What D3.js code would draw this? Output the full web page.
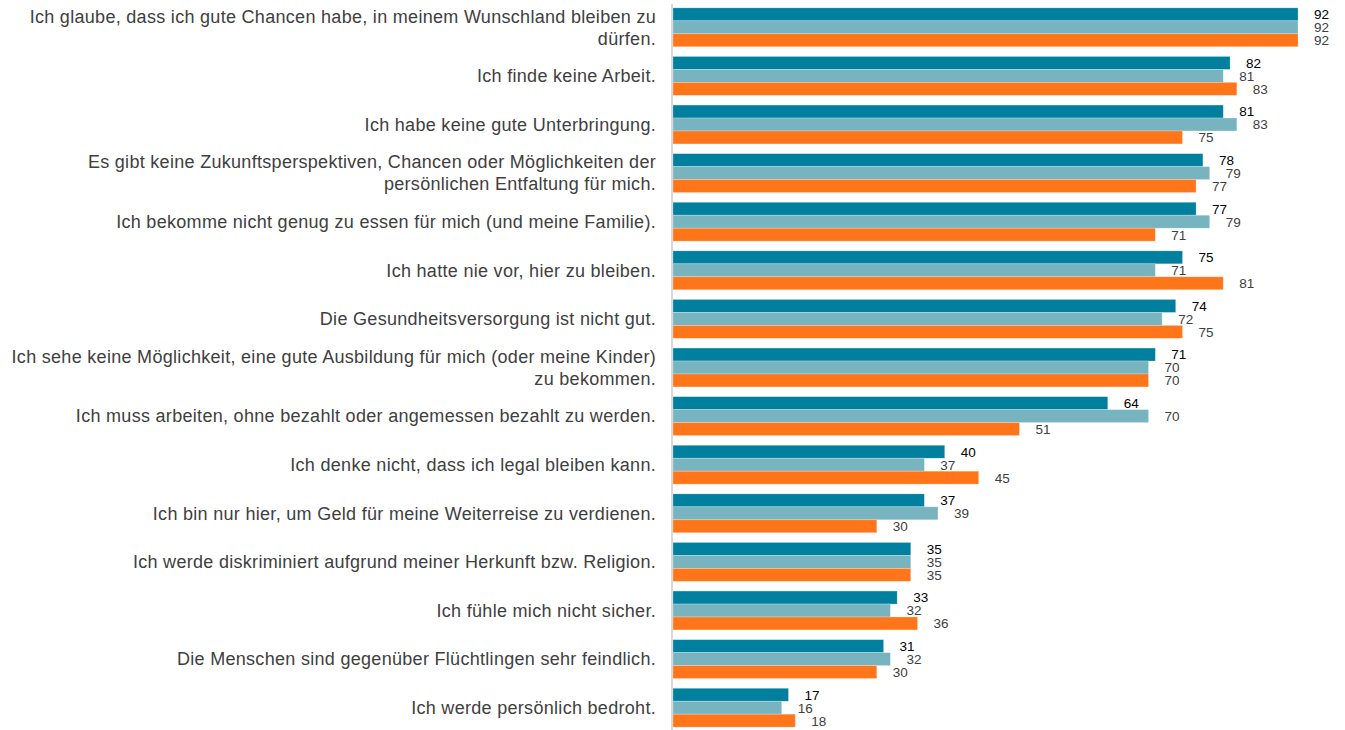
<!DOCTYPE html>
<html lang="de">
<head>
    <meta charset="UTF-8">
    <title>Gründe</title>
    <script src="https://cdn.jsdelivr.net/npm/d3@7"></script>
    <style>
        body { margin: 0; background: #fff; }
        .cat text { font: 18px "Liberation Sans", Arial, sans-serif; fill: #404040; letter-spacing: 0.3px; }
        .val { font: 13.5px "Liberation Sans", Arial, sans-serif; }
    </style>
</head>
<body>
<svg id="chart" width="1345" height="730"></svg>
<script>
    var categories = [
        "Ich glaube, dass ich gute Chancen habe, in meinem Wunschland bleiben zu dürfen.",
        "Ich finde keine Arbeit.",
        "Ich habe keine gute Unterbringung.",
        "Es gibt keine Zukunftsperspektiven, Chancen oder Möglichkeiten der persönlichen Entfaltung für mich.",
        "Ich bekomme nicht genug zu essen für mich (und meine Familie).",
        "Ich hatte nie vor, hier zu bleiben.",
        "Die Gesundheitsversorgung ist nicht gut.",
        "Ich sehe keine Möglichkeit, eine gute Ausbildung für mich (oder meine Kinder) zu bekommen.",
        "Ich muss arbeiten, ohne bezahlt oder angemessen bezahlt zu werden.",
        "Ich denke nicht, dass ich legal bleiben kann.",
        "Ich bin nur hier, um Geld für meine Weiterreise zu verdienen.",
        "Ich werde diskriminiert aufgrund meiner Herkunft bzw. Religion.",
        "Ich fühle mich nicht sicher.",
        "Die Menschen sind gegenüber Flüchtlingen sehr feindlich.",
        "Ich werde persönlich bedroht."
    ];
    var series1 = [92, 82, 81, 78, 77, 75, 74, 71, 64, 40, 37, 35, 33, 31, 17];
    var series2 = [92, 81, 83, 79, 79, 71, 72, 70, 70, 37, 39, 35, 32, 32, 16];
    var series3 = [92, 83, 75, 77, 71, 81, 75, 70, 51, 45, 30, 35, 36, 30, 18];
    var seriesKeys = ["s1", "s2", "s3"];
    var colors = ["#007f9f", "#77b4c0", "#ff761a"];
    var labelColors = ["#000000", "#404040", "#404040"];

    var rows = categories.map(function (c, i) {
        return {cat: c, values: [series1[i], series2[i], series3[i]]};
    });

    var svg = d3.select("#chart"),
        x0 = 673,
        labelRight = 656;

    var x = d3.scaleLinear()
        .domain([0, 92])
        .range([x0, 1298]);

    var y = d3.scaleBand()
        .domain(categories)
        .range([3, 732])
        .paddingInner(0.2)
        .paddingOuter(0.1);

    var ySub = d3.scaleBand()
        .domain(seriesKeys)
        .range([0, y.bandwidth()]);

    var groups = svg.append("g")
        .selectAll("g")
        .data(rows)
        .enter()
        .append("g")
        .attr("transform", function (d) {
            return "translate(0," + y(d.cat) + ")";
        });

    groups.selectAll("rect")
        .data(function (d) { return d.values; })
        .enter()
        .append("rect")
        .attr("x", x0)
        .attr("y", function (d, i) { return ySub(seriesKeys[i]); })
        .attr("width", function (d) { return x(d) - x0; })
        .attr("height", ySub.bandwidth())
        .attr("fill", function (d, i) { return colors[i]; })
        .attr("stroke", "#ffffff")
        .attr("stroke-opacity", 0.35)
        .attr("stroke-width", 0.7);

    groups.selectAll("text.val")
        .data(function (d) { return d.values; })
        .enter()
        .append("text")
        .attr("class", "val")
        .attr("x", function (d) { return x(d) + 16; })
        .attr("y", function (d, i) { return ySub(seriesKeys[i]) + ySub.bandwidth() / 2; })
        .attr("dy", "0.36em")
        .attr("fill", function (d, i) { return labelColors[i]; })
        .text(function (d) { return d; });

    // category labels, wrapped to fit left of the axis
    svg.append("g")
        .attr("class", "cat")
        .selectAll("text")
        .data(categories)
        .enter()
        .append("text")
        .attr("text-anchor", "end")
        .attr("x", labelRight)
        .each(function (d) {
            var el = d3.select(this),
                words = d.split(" "),
                lines = [],
                line = [];
            var probe = el.append("tspan");
            words.forEach(function (w) {
                line.push(w);
                probe.text(line.join(" "));
                if (probe.node().getComputedTextLength() > 652 && line.length > 1) {
                    line.pop();
                    lines.push(line.join(" "));
                    line = [w];
                }
            });
            lines.push(line.join(" "));
            probe.remove();
            var cy = y(d) + y.bandwidth() / 2,
                lh = 22,
                top = cy - (lines.length - 1) * lh / 2;
            lines.forEach(function (l, k) {
                el.append("tspan")
                    .attr("x", labelRight)
                    .attr("y", top + k * lh)
                    .attr("dy", "0.35em")
                    .text(l);
            });
        });

    // vertical axis line
    svg.append("line")
        .attr("x1", 672)
        .attr("x2", 672)
        .attr("y1", 4)
        .attr("y2", 730)
        .attr("stroke", "#d9d9d9")
        .attr("stroke-width", 2);
</script>
</body>
</html>
